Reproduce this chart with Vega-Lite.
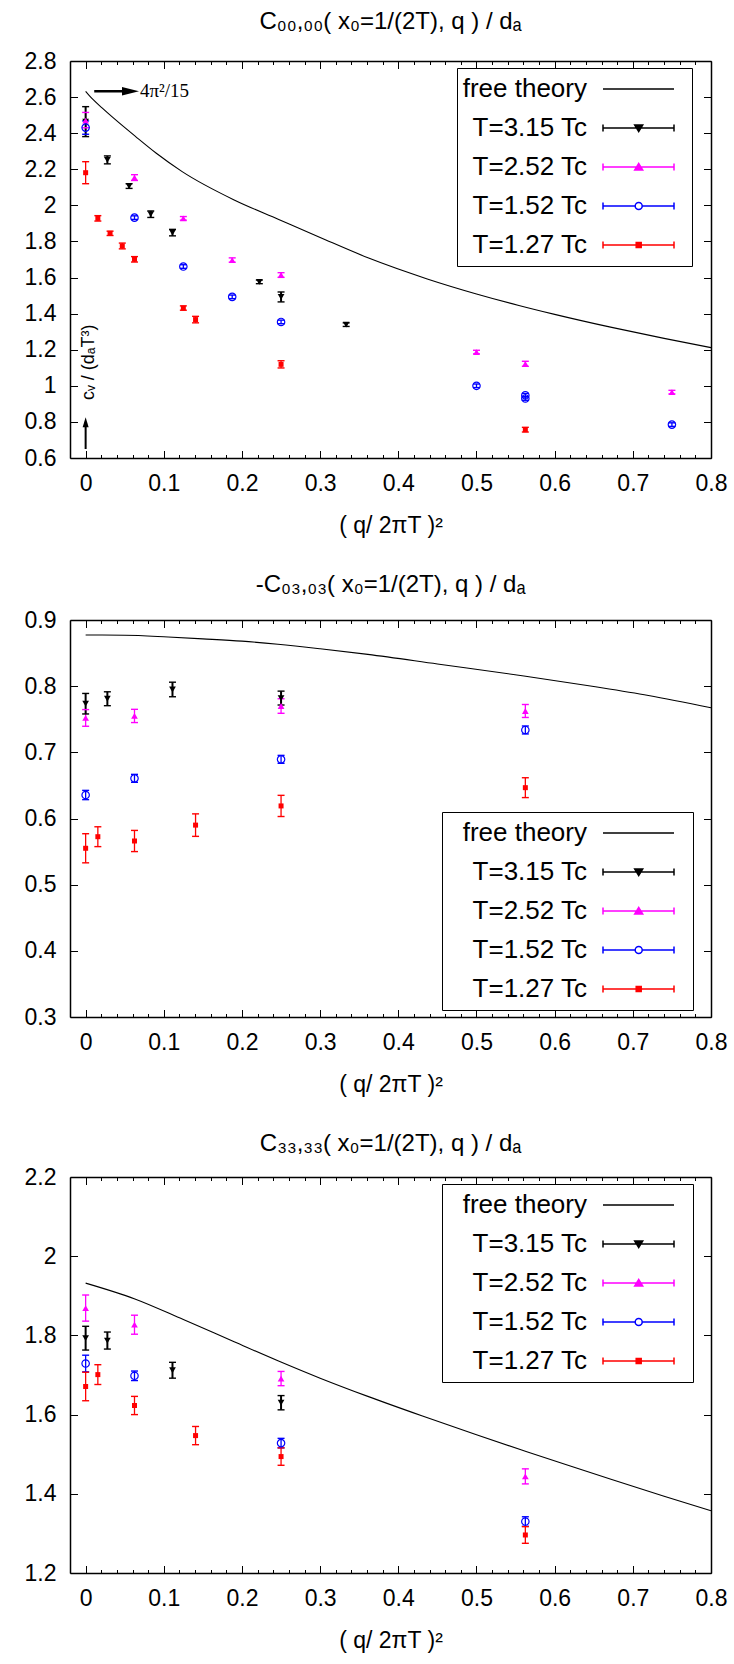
{
  "$schema": "https://vega.github.io/schema/vega-lite/v6.json",
  "padding": {"left": 24, "top": 10, "right": 5, "bottom": 5},
  "spacing": 36,
  "datasets": {
    "c1": [
      {"series": "free theory", "x": 0, "y": 2.632},
      {"series": "free theory", "x": 0.005, "y": 2.607},
      {"series": "free theory", "x": 0.01, "y": 2.584},
      {"series": "free theory", "x": 0.021, "y": 2.54},
      {"series": "free theory", "x": 0.034, "y": 2.49},
      {"series": "free theory", "x": 0.064, "y": 2.381},
      {"series": "free theory", "x": 0.09, "y": 2.29},
      {"series": "free theory", "x": 0.1235, "y": 2.187},
      {"series": "free theory", "x": 0.19, "y": 2.03},
      {"series": "free theory", "x": 0.247, "y": 1.922},
      {"series": "free theory", "x": 0.3, "y": 1.822},
      {"series": "free theory", "x": 0.362, "y": 1.708},
      {"series": "free theory", "x": 0.437, "y": 1.5925},
      {"series": "free theory", "x": 0.5, "y": 1.5093},
      {"series": "free theory", "x": 0.553, "y": 1.4468},
      {"series": "free theory", "x": 0.6, "y": 1.396},
      {"series": "free theory", "x": 0.673, "y": 1.3237},
      {"series": "free theory", "x": 0.74, "y": 1.2627},
      {"series": "free theory", "x": 0.8, "y": 1.2117}
    ],
    "p1": [
      {"series": "T=3.15 Tc", "x": 0, "y": 2.464, "lo": 2.381, "hi": 2.547},
      {"series": "T=3.15 Tc", "x": 0.0278, "y": 2.252, "lo": 2.23, "hi": 2.274},
      {"series": "T=3.15 Tc", "x": 0.0556, "y": 2.107, "lo": 2.094, "hi": 2.12},
      {"series": "T=3.15 Tc", "x": 0.0833, "y": 1.951, "lo": 1.933, "hi": 1.969},
      {"series": "T=3.15 Tc", "x": 0.1111, "y": 1.849, "lo": 1.831, "hi": 1.867},
      {"series": "T=3.15 Tc", "x": 0.2222, "y": 1.576, "lo": 1.566, "hi": 1.586},
      {"series": "T=3.15 Tc", "x": 0.25, "y": 1.493, "lo": 1.465, "hi": 1.52},
      {"series": "T=3.15 Tc", "x": 0.3333, "y": 1.339, "lo": 1.329, "hi": 1.349},
      {"series": "T=2.52 Tc", "x": 0, "y": 2.47, "lo": 2.43, "hi": 2.515},
      {"series": "T=2.52 Tc", "x": 0.0625, "y": 2.154, "lo": 2.138, "hi": 2.17},
      {"series": "T=2.52 Tc", "x": 0.125, "y": 1.928, "lo": 1.918, "hi": 1.938},
      {"series": "T=2.52 Tc", "x": 0.1875, "y": 1.697, "lo": 1.685, "hi": 1.709},
      {"series": "T=2.52 Tc", "x": 0.25, "y": 1.614, "lo": 1.601, "hi": 1.627},
      {"series": "T=2.52 Tc", "x": 0.5, "y": 1.187, "lo": 1.177, "hi": 1.197},
      {"series": "T=2.52 Tc", "x": 0.5625, "y": 1.122, "lo": 1.108, "hi": 1.136},
      {"series": "T=2.52 Tc", "x": 0.75, "y": 0.965, "lo": 0.955, "hi": 0.975},
      {"series": "T=1.52 Tc", "x": 0, "y": 2.431, "lo": 2.394, "hi": 2.468},
      {"series": "T=1.52 Tc", "x": 0.0625, "y": 1.932, "lo": 1.922, "hi": 1.942},
      {"series": "T=1.52 Tc", "x": 0.125, "y": 1.661, "lo": 1.651, "hi": 1.671},
      {"series": "T=1.52 Tc", "x": 0.1875, "y": 1.493, "lo": 1.483, "hi": 1.503},
      {"series": "T=1.52 Tc", "x": 0.25, "y": 1.354, "lo": 1.344, "hi": 1.364},
      {"series": "T=1.52 Tc", "x": 0.5, "y": 1.0, "lo": 0.99, "hi": 1.01},
      {"series": "T=1.52 Tc", "x": 0.5625, "y": 0.948, "lo": 0.938, "hi": 0.958},
      {"series": "T=1.52 Tc", "x": 0.5625, "y": 0.93, "lo": 0.92, "hi": 0.94},
      {"series": "T=1.52 Tc", "x": 0.75, "y": 0.785, "lo": 0.775, "hi": 0.795},
      {"series": "T=1.27 Tc", "x": 0, "y": 2.181, "lo": 2.12, "hi": 2.242},
      {"series": "T=1.27 Tc", "x": 0.015625, "y": 1.928, "lo": 1.913, "hi": 1.943},
      {"series": "T=1.27 Tc", "x": 0.03125, "y": 1.845, "lo": 1.833, "hi": 1.857},
      {"series": "T=1.27 Tc", "x": 0.046875, "y": 1.775, "lo": 1.759, "hi": 1.791},
      {"series": "T=1.27 Tc", "x": 0.0625, "y": 1.701, "lo": 1.686, "hi": 1.716},
      {"series": "T=1.27 Tc", "x": 0.125, "y": 1.431, "lo": 1.419, "hi": 1.443},
      {"series": "T=1.27 Tc", "x": 0.140625, "y": 1.367, "lo": 1.349, "hi": 1.385},
      {"series": "T=1.27 Tc", "x": 0.25, "y": 1.119, "lo": 1.099, "hi": 1.139},
      {"series": "T=1.27 Tc", "x": 0.5625, "y": 0.757, "lo": 0.744, "hi": 0.77}
    ],
    "c2": [
      {"series": "free theory", "x": 0, "y": 0.8773},
      {"series": "free theory", "x": 0.05, "y": 0.877},
      {"series": "free theory", "x": 0.1055, "y": 0.8743},
      {"series": "free theory", "x": 0.15, "y": 0.8715},
      {"series": "free theory", "x": 0.2, "y": 0.868},
      {"series": "free theory", "x": 0.246, "y": 0.8633},
      {"series": "free theory", "x": 0.3, "y": 0.8565},
      {"series": "free theory", "x": 0.361, "y": 0.848},
      {"series": "free theory", "x": 0.45, "y": 0.8335},
      {"series": "free theory", "x": 0.5607, "y": 0.8154},
      {"series": "free theory", "x": 0.65, "y": 0.7995},
      {"series": "free theory", "x": 0.72, "y": 0.786},
      {"series": "free theory", "x": 0.8, "y": 0.7675}
    ],
    "p2": [
      {"series": "T=3.15 Tc", "x": 0, "y": 0.7735, "lo": 0.758, "hi": 0.789},
      {"series": "T=3.15 Tc", "x": 0.0278, "y": 0.781, "lo": 0.7705, "hi": 0.7915},
      {"series": "T=3.15 Tc", "x": 0.1111, "y": 0.795, "lo": 0.784, "hi": 0.806},
      {"series": "T=3.15 Tc", "x": 0.25, "y": 0.782, "lo": 0.7715, "hi": 0.7925},
      {"series": "T=2.52 Tc", "x": 0, "y": 0.752, "lo": 0.7394, "hi": 0.7646},
      {"series": "T=2.52 Tc", "x": 0.0625, "y": 0.755, "lo": 0.745, "hi": 0.765},
      {"series": "T=2.52 Tc", "x": 0.25, "y": 0.77, "lo": 0.759, "hi": 0.781},
      {"series": "T=2.52 Tc", "x": 0.5625, "y": 0.7625, "lo": 0.7527, "hi": 0.7723},
      {"series": "T=1.52 Tc", "x": 0, "y": 0.6355, "lo": 0.6285, "hi": 0.6425},
      {"series": "T=1.52 Tc", "x": 0.0625, "y": 0.6607, "lo": 0.6547, "hi": 0.6667},
      {"series": "T=1.52 Tc", "x": 0.25, "y": 0.6894, "lo": 0.6834, "hi": 0.6954},
      {"series": "T=1.52 Tc", "x": 0.5625, "y": 0.7338, "lo": 0.7278, "hi": 0.7398},
      {"series": "T=1.27 Tc", "x": 0, "y": 0.555, "lo": 0.533, "hi": 0.577},
      {"series": "T=1.27 Tc", "x": 0.015625, "y": 0.5725, "lo": 0.5575, "hi": 0.5875},
      {"series": "T=1.27 Tc", "x": 0.0625, "y": 0.566, "lo": 0.55, "hi": 0.582},
      {"series": "T=1.27 Tc", "x": 0.140625, "y": 0.59, "lo": 0.573, "hi": 0.607},
      {"series": "T=1.27 Tc", "x": 0.25, "y": 0.619, "lo": 0.603, "hi": 0.635},
      {"series": "T=1.27 Tc", "x": 0.5625, "y": 0.6466, "lo": 0.6316, "hi": 0.6616}
    ],
    "c3": [
      {"series": "free theory", "x": 0, "y": 1.932},
      {"series": "free theory", "x": 0.063, "y": 1.892},
      {"series": "free theory", "x": 0.125, "y": 1.84},
      {"series": "free theory", "x": 0.19, "y": 1.784},
      {"series": "free theory", "x": 0.246, "y": 1.736},
      {"series": "free theory", "x": 0.3, "y": 1.692},
      {"series": "free theory", "x": 0.361, "y": 1.646},
      {"series": "free theory", "x": 0.43, "y": 1.597},
      {"series": "free theory", "x": 0.5, "y": 1.549},
      {"series": "free theory", "x": 0.5634, "y": 1.507},
      {"series": "free theory", "x": 0.62, "y": 1.47},
      {"series": "free theory", "x": 0.673, "y": 1.436},
      {"series": "free theory", "x": 0.74, "y": 1.394},
      {"series": "free theory", "x": 0.8, "y": 1.357}
    ],
    "p3": [
      {"series": "T=3.15 Tc", "x": 0, "y": 1.793, "lo": 1.763, "hi": 1.823},
      {"series": "T=3.15 Tc", "x": 0.0278, "y": 1.787, "lo": 1.7655, "hi": 1.8085},
      {"series": "T=3.15 Tc", "x": 0.1111, "y": 1.712, "lo": 1.692, "hi": 1.732},
      {"series": "T=3.15 Tc", "x": 0.25, "y": 1.63, "lo": 1.612, "hi": 1.648},
      {"series": "T=2.52 Tc", "x": 0, "y": 1.869, "lo": 1.836, "hi": 1.902},
      {"series": "T=2.52 Tc", "x": 0.0625, "y": 1.827, "lo": 1.803, "hi": 1.851},
      {"series": "T=2.52 Tc", "x": 0.25, "y": 1.691, "lo": 1.673, "hi": 1.709},
      {"series": "T=2.52 Tc", "x": 0.5625, "y": 1.444, "lo": 1.425, "hi": 1.463},
      {"series": "T=1.52 Tc", "x": 0, "y": 1.729, "lo": 1.708, "hi": 1.75},
      {"series": "T=1.52 Tc", "x": 0.0625, "y": 1.698, "lo": 1.686, "hi": 1.71},
      {"series": "T=1.52 Tc", "x": 0.25, "y": 1.528, "lo": 1.516, "hi": 1.54},
      {"series": "T=1.52 Tc", "x": 0.5625, "y": 1.33, "lo": 1.318, "hi": 1.342},
      {"series": "T=1.27 Tc", "x": 0, "y": 1.671, "lo": 1.635, "hi": 1.707},
      {"series": "T=1.27 Tc", "x": 0.015625, "y": 1.701, "lo": 1.676, "hi": 1.726},
      {"series": "T=1.27 Tc", "x": 0.0625, "y": 1.623, "lo": 1.6, "hi": 1.646},
      {"series": "T=1.27 Tc", "x": 0.140625, "y": 1.547, "lo": 1.524, "hi": 1.57},
      {"series": "T=1.27 Tc", "x": 0.25, "y": 1.494, "lo": 1.472, "hi": 1.516},
      {"series": "T=1.27 Tc", "x": 0.5625, "y": 1.296, "lo": 1.275, "hi": 1.317}
    ]
  },
  "resolve": {
    "scale": {"x": "independent", "y": "independent", "color": "independent"},
    "axis": {"x": "independent", "y": "independent"},
    "legend": {"color": "independent"}
  },
  "vconcat": [
    {
      "width": 641, "height": 397,
      "title": {"text": "C₀₀,₀₀( x₀=1/(2T), q ) / dₐ", "anchor": "middle", "frame": "group", "baseline": "alphabetic", "offset": -3},
      "resolve": {"axis": {"x": "independent", "y": "independent"}},
      "layer": [
        {"data": {"name": "c1"}, "mark": {"type": "line", "interpolate": "monotone", "strokeWidth": 1.1},
         "encoding": {
           "x": {"field": "x", "type": "quantitative", "scale": {"domain": [-0.02, 0.8], "nice": false, "zero": false},
                 "axis": {"orient": "bottom", "values": [0, 0.1, 0.2, 0.3, 0.4, 0.5, 0.6, 0.7, 0.8], "format": "~g", "tickSize": -7.5, "labelPadding": 21.5, "title": "( q/ 2πT )²", "titlePadding": 19}},
           "y": {"field": "y", "type": "quantitative", "scale": {"domain": [0.6, 2.8], "nice": false, "zero": false},
                 "axis": {"orient": "left", "values": [0.6, 0.8, 1, 1.2, 1.4, 1.6, 1.8, 2, 2.2, 2.4, 2.6, 2.8], "format": "~g", "tickSize": -7.5, "labelPadding": 21.5, "title": null}},
           "color": {"field": "series", "type": "nominal",
             "scale": {"domain": ["free theory", "T=3.15 Tc", "T=2.52 Tc", "T=1.52 Tc", "T=1.27 Tc"], "range": ["#000000", "#000000", "#ff00ff", "#0000ff", "#ff0000"]},
             "legend": {"orient": "none", "legendX": 387, "legendY": 7, "title": null, "labelOffset": 96,
               "encode": {"symbols": {"update": {
                 "shape": {"signal": "datum.value === 'free theory' ? 'M-13,0L-13,0M125,0H196M203,0L203,0' : datum.value === 'T=3.15 Tc' ? 'M-13,0L-13,0M125,0H196M125,-3.5V3.5M196,-3.5V3.5M156.7,-3L164.7,-3L160.7,3.5ZM203,0L203,0' : datum.value === 'T=2.52 Tc' ? 'M-13,0L-13,0M125,0H196M125,-3.5V3.5M196,-3.5V3.5M156.7,3L164.7,3L160.7,-3.5ZM203,0L203,0' : datum.value === 'T=1.52 Tc' ? 'M-13,0L-13,0M125,0H157.2M164.2,0H196M125,-3.5V3.5M196,-3.5V3.5M164.2,0A3.5,3.5,0,1,1,157.2,0A3.5,3.5,0,1,1,164.2,0M203,0L203,0' : 'M-13,0L-13,0M125,0H196M125,-3.5V3.5M196,-3.5V3.5M158.2,-2.5H163.2V2.5H158.2ZM203,0L203,0'"},
                 "fill": {"signal": "datum.value === 'T=3.15 Tc' ? '#000000' : datum.value === 'T=2.52 Tc' ? '#ff00ff' : datum.value === 'T=1.27 Tc' ? '#ff0000' : 'transparent'"},
                 "stroke": {"signal": "datum.value === 'T=2.52 Tc' ? '#ff00ff' : datum.value === 'T=1.52 Tc' ? '#0000ff' : datum.value === 'T=1.27 Tc' ? '#ff0000' : '#000000'"},
                 "strokeWidth": {"value": 1.5},
                 "size": {"value": 4},
                 "opacity": {"value": 1}
               }}}}}
         }},
        {"data": {"name": "p1"}, "transform": [{"filter": "datum.series !== 'T=3.15 Tc'"}], "mark": {"type": "rule", "strokeWidth": 1.3},
         "encoding": {
           "x": {"field": "x", "type": "quantitative", "scale": {"domain": [-0.02, 0.8], "nice": false, "zero": false},
                 "axis": {"orient": "top", "values": [0, 0.1, 0.2, 0.3, 0.4, 0.5, 0.6, 0.7, 0.8], "labels": false, "tickSize": -7.5, "title": null}},
           "y": {"field": "lo", "type": "quantitative", "scale": {"domain": [0.6, 2.8], "nice": false, "zero": false},
                 "axis": {"orient": "right", "values": [0.6, 0.8, 1, 1.2, 1.4, 1.6, 1.8, 2, 2.2, 2.4, 2.6, 2.8], "labels": false, "tickSize": -7.5, "title": null}},
           "y2": {"field": "hi"},
           "stroke": {"field": "series", "type": "nominal", "scale": {"domain": ["T=3.15 Tc", "T=2.52 Tc", "T=1.52 Tc", "T=1.27 Tc"], "range": ["#000000", "#ff00ff", "#0000ff", "#ff0000"]}, "legend": null}
         }},
        {"data": {"name": "p1"}, "transform": [{"filter": "datum.series === 'T=3.15 Tc'"}], "mark": {"type": "rule", "strokeWidth": 2, "color": "#000000"},
         "encoding": {
           "x": {"field": "x", "type": "quantitative", "scale": {"domain": [-0.02, 0.8], "nice": false, "zero": false}, "axis": null},
           "y": {"field": "lo", "type": "quantitative", "scale": {"domain": [0.6, 2.8], "nice": false, "zero": false}, "axis": null},
           "y2": {"field": "hi"}
         }},
        {"data": {"name": "p1"}, "mark": {"type": "tick", "orient": "horizontal", "size": 7, "thickness": 1.4, "opacity": 1},
         "encoding": {
           "x": {"field": "x", "type": "quantitative", "scale": {"domain": [-0.02, 0.8], "nice": false, "zero": false},
                 "axis": {"orient": "bottom", "values": [0.02, 0.04, 0.06, 0.08, 0.12, 0.14, 0.16, 0.18, 0.22, 0.24, 0.26, 0.28, 0.32, 0.34, 0.36, 0.38, 0.42, 0.44, 0.46, 0.48, 0.52, 0.54, 0.56, 0.58, 0.62, 0.64, 0.66, 0.68, 0.72, 0.74, 0.76, 0.78], "labels": false, "domain": false, "tickSize": -3.5, "title": null}},
           "y": {"field": "lo", "type": "quantitative", "scale": {"domain": [0.6, 2.8], "nice": false, "zero": false}, "axis": null},
           "fill": {"field": "series", "type": "nominal", "scale": {"domain": ["T=3.15 Tc", "T=2.52 Tc", "T=1.52 Tc", "T=1.27 Tc"], "range": ["#000000", "#ff00ff", "#0000ff", "#ff0000"]}, "legend": null}
         }},
        {"data": {"name": "p1"}, "mark": {"type": "tick", "orient": "horizontal", "size": 7, "thickness": 1.4, "opacity": 1},
         "encoding": {
           "x": {"field": "x", "type": "quantitative", "scale": {"domain": [-0.02, 0.8], "nice": false, "zero": false},
                 "axis": {"orient": "top", "values": [0.02, 0.04, 0.06, 0.08, 0.12, 0.14, 0.16, 0.18, 0.22, 0.24, 0.26, 0.28, 0.32, 0.34, 0.36, 0.38, 0.42, 0.44, 0.46, 0.48, 0.52, 0.54, 0.56, 0.58, 0.62, 0.64, 0.66, 0.68, 0.72, 0.74, 0.76, 0.78], "labels": false, "domain": false, "tickSize": -3.5, "title": null}},
           "y": {"field": "hi", "type": "quantitative", "scale": {"domain": [0.6, 2.8], "nice": false, "zero": false}, "axis": null},
           "fill": {"field": "series", "type": "nominal", "scale": {"domain": ["T=3.15 Tc", "T=2.52 Tc", "T=1.52 Tc", "T=1.27 Tc"], "range": ["#000000", "#ff00ff", "#0000ff", "#ff0000"]}, "legend": null}
         }},
        {"data": {"name": "p1"}, "transform": [{"filter": "datum.series === 'T=3.15 Tc'"}], "mark": {"type": "point", "shape": "triangle-down", "size": 45, "filled": true, "color": "#000000", "opacity": 1},
         "encoding": {"x": {"field": "x", "type": "quantitative", "scale": {"domain": [-0.02, 0.8], "nice": false, "zero": false}, "axis": null},
                      "y": {"field": "y", "type": "quantitative", "scale": {"domain": [0.6, 2.8], "nice": false, "zero": false}, "axis": null}}},
        {"data": {"name": "p1"}, "transform": [{"filter": "datum.series === 'T=2.52 Tc'"}], "mark": {"type": "point", "shape": "triangle-up", "size": 45, "filled": true, "color": "#ff00ff", "opacity": 1},
         "encoding": {"x": {"field": "x", "type": "quantitative", "scale": {"domain": [-0.02, 0.8], "nice": false, "zero": false}, "axis": null},
                      "y": {"field": "y", "type": "quantitative", "scale": {"domain": [0.6, 2.8], "nice": false, "zero": false}, "axis": null}}},
        {"data": {"name": "p1"}, "transform": [{"filter": "datum.series === 'T=1.52 Tc'"}], "mark": {"type": "point", "shape": "circle", "size": 55, "filled": false, "color": "#0000ff", "strokeWidth": 1.2, "opacity": 1},
         "encoding": {"x": {"field": "x", "type": "quantitative", "scale": {"domain": [-0.02, 0.8], "nice": false, "zero": false}, "axis": null},
                      "y": {"field": "y", "type": "quantitative", "scale": {"domain": [0.6, 2.8], "nice": false, "zero": false}, "axis": null}}},
        {"data": {"name": "p1"}, "transform": [{"filter": "datum.series === 'T=1.27 Tc'"}], "mark": {"type": "point", "shape": "square", "size": 25, "filled": true, "color": "#ff0000", "opacity": 1},
         "encoding": {"x": {"field": "x", "type": "quantitative", "scale": {"domain": [-0.02, 0.8], "nice": false, "zero": false}, "axis": null},
                      "y": {"field": "y", "type": "quantitative", "scale": {"domain": [0.6, 2.8], "nice": false, "zero": false}, "axis": null}}},
        {"data": {"values": [{}]}, "mark": {"type": "text", "text": "cᵥ / (dₐT³)", "angle": 270, "font": "Liberation Sans", "fontSize": 18, "align": "center", "baseline": "middle", "color": "#000000"},
         "encoding": {"x": {"datum": 0.004, "type": "quantitative", "axis": null}, "y": {"datum": 1.13, "type": "quantitative", "axis": null}}},
        {"data": {"values": [{}]}, "mark": {"type": "rule", "strokeWidth": 2, "color": "#000000"},
         "encoding": {"x": {"datum": 0, "type": "quantitative", "axis": null}, "y": {"datum": 0.65, "type": "quantitative", "axis": null}, "y2": {"datum": 0.78}}},
        {"data": {"values": [{}]}, "mark": {"type": "point", "shape": "M-0.6,1L0,-1L0.6,1Z", "size": 100, "filled": true, "color": "#000000", "opacity": 1},
         "encoding": {"x": {"datum": 0, "type": "quantitative", "axis": null}, "y": {"datum": 0.798, "type": "quantitative", "axis": null}}},
        {"data": {"values": [{}]}, "mark": {"type": "rule", "strokeWidth": 2.5, "color": "#000000"},
         "encoding": {"x": {"datum": 0.011, "type": "quantitative", "axis": null}, "x2": {"datum": 0.058}, "y": {"datum": 2.632, "type": "quantitative", "axis": null}}},
        {"data": {"values": [{}]}, "mark": {"type": "point", "shape": "M-1,-0.5L1,0L-1,0.5Z", "size": 289, "filled": true, "color": "#000000", "opacity": 1},
         "encoding": {"x": {"datum": 0.0574, "type": "quantitative", "axis": null}, "y": {"datum": 2.632, "type": "quantitative", "axis": null}}},
        {"data": {"values": [{}]}, "mark": {"type": "text", "text": "4π²/15", "font": "Liberation Serif", "fontSize": 19, "align": "left", "baseline": "middle", "color": "#000000"},
         "encoding": {"x": {"datum": 0.0695, "type": "quantitative", "axis": null}, "y": {"datum": 2.632, "type": "quantitative", "axis": null}}}
      ]
    },
    {
      "width": 641, "height": 397,
      "title": {"text": "-C₀₃,₀₃( x₀=1/(2T), q ) / dₐ", "anchor": "middle", "frame": "group", "baseline": "alphabetic", "offset": -7},
      "resolve": {"axis": {"x": "independent", "y": "independent"}},
      "layer": [
        {"data": {"name": "c2"}, "mark": {"type": "line", "interpolate": "monotone", "strokeWidth": 1.1},
         "encoding": {
           "x": {"field": "x", "type": "quantitative", "scale": {"domain": [-0.02, 0.8], "nice": false, "zero": false},
                 "axis": {"orient": "bottom", "values": [0, 0.1, 0.2, 0.3, 0.4, 0.5, 0.6, 0.7, 0.8], "format": "~g", "tickSize": -7.5, "labelPadding": 21.5, "title": "( q/ 2πT )²", "titlePadding": 19}},
           "y": {"field": "y", "type": "quantitative", "scale": {"domain": [0.3, 0.9], "nice": false, "zero": false},
                 "axis": {"orient": "left", "values": [0.3, 0.4, 0.5, 0.6, 0.7, 0.8, 0.9], "format": "~g", "tickSize": -7.5, "labelPadding": 21.5, "title": null}},
           "color": {"field": "series", "type": "nominal",
             "scale": {"domain": ["free theory", "T=3.15 Tc", "T=2.52 Tc", "T=1.52 Tc", "T=1.27 Tc"], "range": ["#000000", "#000000", "#ff00ff", "#0000ff", "#ff0000"]},
             "legend": {"orient": "none", "legendX": 372, "legendY": 192, "title": null, "labelOffset": 111,
               "encode": {"symbols": {"update": {
                 "shape": {"signal": "datum.value === 'free theory' ? 'M-13,0L-13,0M140,0H211M219,0L219,0' : datum.value === 'T=3.15 Tc' ? 'M-13,0L-13,0M140,0H211M140,-3.5V3.5M211,-3.5V3.5M171.7,-3L179.7,-3L175.7,3.5ZM219,0L219,0' : datum.value === 'T=2.52 Tc' ? 'M-13,0L-13,0M140,0H211M140,-3.5V3.5M211,-3.5V3.5M171.7,3L179.7,3L175.7,-3.5ZM219,0L219,0' : datum.value === 'T=1.52 Tc' ? 'M-13,0L-13,0M140,0H172.2M179.2,0H211M140,-3.5V3.5M211,-3.5V3.5M179.2,0A3.5,3.5,0,1,1,172.2,0A3.5,3.5,0,1,1,179.2,0M219,0L219,0' : 'M-13,0L-13,0M140,0H211M140,-3.5V3.5M211,-3.5V3.5M173.2,-2.5H178.2V2.5H173.2ZM219,0L219,0'"},
                 "fill": {"signal": "datum.value === 'T=3.15 Tc' ? '#000000' : datum.value === 'T=2.52 Tc' ? '#ff00ff' : datum.value === 'T=1.27 Tc' ? '#ff0000' : 'transparent'"},
                 "stroke": {"signal": "datum.value === 'T=2.52 Tc' ? '#ff00ff' : datum.value === 'T=1.52 Tc' ? '#0000ff' : datum.value === 'T=1.27 Tc' ? '#ff0000' : '#000000'"},
                 "strokeWidth": {"value": 1.5},
                 "size": {"value": 4},
                 "opacity": {"value": 1}
               }}}}}
         }},
        {"data": {"name": "p2"}, "transform": [{"filter": "datum.series !== 'T=3.15 Tc'"}], "mark": {"type": "rule", "strokeWidth": 1.3},
         "encoding": {
           "x": {"field": "x", "type": "quantitative", "scale": {"domain": [-0.02, 0.8], "nice": false, "zero": false},
                 "axis": {"orient": "top", "values": [0, 0.1, 0.2, 0.3, 0.4, 0.5, 0.6, 0.7, 0.8], "labels": false, "tickSize": -7.5, "title": null}},
           "y": {"field": "lo", "type": "quantitative", "scale": {"domain": [0.3, 0.9], "nice": false, "zero": false},
                 "axis": {"orient": "right", "values": [0.3, 0.4, 0.5, 0.6, 0.7, 0.8, 0.9], "labels": false, "tickSize": -7.5, "title": null}},
           "y2": {"field": "hi"},
           "stroke": {"field": "series", "type": "nominal", "scale": {"domain": ["T=3.15 Tc", "T=2.52 Tc", "T=1.52 Tc", "T=1.27 Tc"], "range": ["#000000", "#ff00ff", "#0000ff", "#ff0000"]}, "legend": null}
         }},
        {"data": {"name": "p2"}, "transform": [{"filter": "datum.series === 'T=3.15 Tc'"}], "mark": {"type": "rule", "strokeWidth": 2, "color": "#000000"},
         "encoding": {
           "x": {"field": "x", "type": "quantitative", "scale": {"domain": [-0.02, 0.8], "nice": false, "zero": false}, "axis": null},
           "y": {"field": "lo", "type": "quantitative", "scale": {"domain": [0.3, 0.9], "nice": false, "zero": false}, "axis": null},
           "y2": {"field": "hi"}
         }},
        {"data": {"name": "p2"}, "mark": {"type": "tick", "orient": "horizontal", "size": 7, "thickness": 1.4, "opacity": 1},
         "encoding": {
           "x": {"field": "x", "type": "quantitative", "scale": {"domain": [-0.02, 0.8], "nice": false, "zero": false},
                 "axis": {"orient": "bottom", "values": [0.02, 0.04, 0.06, 0.08, 0.12, 0.14, 0.16, 0.18, 0.22, 0.24, 0.26, 0.28, 0.32, 0.34, 0.36, 0.38, 0.42, 0.44, 0.46, 0.48, 0.52, 0.54, 0.56, 0.58, 0.62, 0.64, 0.66, 0.68, 0.72, 0.74, 0.76, 0.78], "labels": false, "domain": false, "tickSize": -3.5, "title": null}},
           "y": {"field": "lo", "type": "quantitative", "scale": {"domain": [0.3, 0.9], "nice": false, "zero": false}, "axis": null},
           "fill": {"field": "series", "type": "nominal", "scale": {"domain": ["T=3.15 Tc", "T=2.52 Tc", "T=1.52 Tc", "T=1.27 Tc"], "range": ["#000000", "#ff00ff", "#0000ff", "#ff0000"]}, "legend": null}
         }},
        {"data": {"name": "p2"}, "mark": {"type": "tick", "orient": "horizontal", "size": 7, "thickness": 1.4, "opacity": 1},
         "encoding": {
           "x": {"field": "x", "type": "quantitative", "scale": {"domain": [-0.02, 0.8], "nice": false, "zero": false},
                 "axis": {"orient": "top", "values": [0.02, 0.04, 0.06, 0.08, 0.12, 0.14, 0.16, 0.18, 0.22, 0.24, 0.26, 0.28, 0.32, 0.34, 0.36, 0.38, 0.42, 0.44, 0.46, 0.48, 0.52, 0.54, 0.56, 0.58, 0.62, 0.64, 0.66, 0.68, 0.72, 0.74, 0.76, 0.78], "labels": false, "domain": false, "tickSize": -3.5, "title": null}},
           "y": {"field": "hi", "type": "quantitative", "scale": {"domain": [0.3, 0.9], "nice": false, "zero": false}, "axis": null},
           "fill": {"field": "series", "type": "nominal", "scale": {"domain": ["T=3.15 Tc", "T=2.52 Tc", "T=1.52 Tc", "T=1.27 Tc"], "range": ["#000000", "#ff00ff", "#0000ff", "#ff0000"]}, "legend": null}
         }},
        {"data": {"name": "p2"}, "transform": [{"filter": "datum.series === 'T=3.15 Tc'"}], "mark": {"type": "point", "shape": "triangle-down", "size": 45, "filled": true, "color": "#000000", "opacity": 1},
         "encoding": {"x": {"field": "x", "type": "quantitative", "scale": {"domain": [-0.02, 0.8], "nice": false, "zero": false}, "axis": null},
                      "y": {"field": "y", "type": "quantitative", "scale": {"domain": [0.3, 0.9], "nice": false, "zero": false}, "axis": null}}},
        {"data": {"name": "p2"}, "transform": [{"filter": "datum.series === 'T=2.52 Tc'"}], "mark": {"type": "point", "shape": "triangle-up", "size": 45, "filled": true, "color": "#ff00ff", "opacity": 1},
         "encoding": {"x": {"field": "x", "type": "quantitative", "scale": {"domain": [-0.02, 0.8], "nice": false, "zero": false}, "axis": null},
                      "y": {"field": "y", "type": "quantitative", "scale": {"domain": [0.3, 0.9], "nice": false, "zero": false}, "axis": null}}},
        {"data": {"name": "p2"}, "transform": [{"filter": "datum.series === 'T=1.52 Tc'"}], "mark": {"type": "point", "shape": "circle", "size": 55, "filled": false, "color": "#0000ff", "strokeWidth": 1.2, "opacity": 1},
         "encoding": {"x": {"field": "x", "type": "quantitative", "scale": {"domain": [-0.02, 0.8], "nice": false, "zero": false}, "axis": null},
                      "y": {"field": "y", "type": "quantitative", "scale": {"domain": [0.3, 0.9], "nice": false, "zero": false}, "axis": null}}},
        {"data": {"name": "p2"}, "transform": [{"filter": "datum.series === 'T=1.27 Tc'"}], "mark": {"type": "point", "shape": "square", "size": 25, "filled": true, "color": "#ff0000", "opacity": 1},
         "encoding": {"x": {"field": "x", "type": "quantitative", "scale": {"domain": [-0.02, 0.8], "nice": false, "zero": false}, "axis": null},
                      "y": {"field": "y", "type": "quantitative", "scale": {"domain": [0.3, 0.9], "nice": false, "zero": false}, "axis": null}}}
      ]
    },
    {
      "width": 641, "height": 396,
      "title": {"text": "C₃₃,₃₃( x₀=1/(2T), q ) / dₐ", "anchor": "middle", "frame": "group", "baseline": "alphabetic", "offset": -9},
      "resolve": {"axis": {"x": "independent", "y": "independent"}},
      "layer": [
        {"data": {"name": "c3"}, "mark": {"type": "line", "interpolate": "monotone", "strokeWidth": 1.1},
         "encoding": {
           "x": {"field": "x", "type": "quantitative", "scale": {"domain": [-0.02, 0.8], "nice": false, "zero": false},
                 "axis": {"orient": "bottom", "values": [0, 0.1, 0.2, 0.3, 0.4, 0.5, 0.6, 0.7, 0.8], "format": "~g", "tickSize": -7.5, "labelPadding": 21.5, "title": "( q/ 2πT )²", "titlePadding": 19}},
           "y": {"field": "y", "type": "quantitative", "scale": {"domain": [1.2, 2.2], "nice": false, "zero": false},
                 "axis": {"orient": "left", "values": [1.2, 1.4, 1.6, 1.8, 2, 2.2], "format": "~g", "tickSize": -7.5, "labelPadding": 21.5, "title": null}},
           "color": {"field": "series", "type": "nominal",
             "scale": {"domain": ["free theory", "T=3.15 Tc", "T=2.52 Tc", "T=1.52 Tc", "T=1.27 Tc"], "range": ["#000000", "#000000", "#ff00ff", "#0000ff", "#ff0000"]},
             "legend": {"orient": "none", "legendX": 372, "legendY": 7, "title": null, "labelOffset": 111,
               "encode": {"symbols": {"update": {
                 "shape": {"signal": "datum.value === 'free theory' ? 'M-13,0L-13,0M140,0H211M219,0L219,0' : datum.value === 'T=3.15 Tc' ? 'M-13,0L-13,0M140,0H211M140,-3.5V3.5M211,-3.5V3.5M171.7,-3L179.7,-3L175.7,3.5ZM219,0L219,0' : datum.value === 'T=2.52 Tc' ? 'M-13,0L-13,0M140,0H211M140,-3.5V3.5M211,-3.5V3.5M171.7,3L179.7,3L175.7,-3.5ZM219,0L219,0' : datum.value === 'T=1.52 Tc' ? 'M-13,0L-13,0M140,0H172.2M179.2,0H211M140,-3.5V3.5M211,-3.5V3.5M179.2,0A3.5,3.5,0,1,1,172.2,0A3.5,3.5,0,1,1,179.2,0M219,0L219,0' : 'M-13,0L-13,0M140,0H211M140,-3.5V3.5M211,-3.5V3.5M173.2,-2.5H178.2V2.5H173.2ZM219,0L219,0'"},
                 "fill": {"signal": "datum.value === 'T=3.15 Tc' ? '#000000' : datum.value === 'T=2.52 Tc' ? '#ff00ff' : datum.value === 'T=1.27 Tc' ? '#ff0000' : 'transparent'"},
                 "stroke": {"signal": "datum.value === 'T=2.52 Tc' ? '#ff00ff' : datum.value === 'T=1.52 Tc' ? '#0000ff' : datum.value === 'T=1.27 Tc' ? '#ff0000' : '#000000'"},
                 "strokeWidth": {"value": 1.5},
                 "size": {"value": 4},
                 "opacity": {"value": 1}
               }}}}}
         }},
        {"data": {"name": "p3"}, "transform": [{"filter": "datum.series !== 'T=3.15 Tc'"}], "mark": {"type": "rule", "strokeWidth": 1.3},
         "encoding": {
           "x": {"field": "x", "type": "quantitative", "scale": {"domain": [-0.02, 0.8], "nice": false, "zero": false},
                 "axis": {"orient": "top", "values": [0, 0.1, 0.2, 0.3, 0.4, 0.5, 0.6, 0.7, 0.8], "labels": false, "tickSize": -7.5, "title": null}},
           "y": {"field": "lo", "type": "quantitative", "scale": {"domain": [1.2, 2.2], "nice": false, "zero": false},
                 "axis": {"orient": "right", "values": [1.2, 1.4, 1.6, 1.8, 2, 2.2], "labels": false, "tickSize": -7.5, "title": null}},
           "y2": {"field": "hi"},
           "stroke": {"field": "series", "type": "nominal", "scale": {"domain": ["T=3.15 Tc", "T=2.52 Tc", "T=1.52 Tc", "T=1.27 Tc"], "range": ["#000000", "#ff00ff", "#0000ff", "#ff0000"]}, "legend": null}
         }},
        {"data": {"name": "p3"}, "transform": [{"filter": "datum.series === 'T=3.15 Tc'"}], "mark": {"type": "rule", "strokeWidth": 2, "color": "#000000"},
         "encoding": {
           "x": {"field": "x", "type": "quantitative", "scale": {"domain": [-0.02, 0.8], "nice": false, "zero": false}, "axis": null},
           "y": {"field": "lo", "type": "quantitative", "scale": {"domain": [1.2, 2.2], "nice": false, "zero": false}, "axis": null},
           "y2": {"field": "hi"}
         }},
        {"data": {"name": "p3"}, "mark": {"type": "tick", "orient": "horizontal", "size": 7, "thickness": 1.4, "opacity": 1},
         "encoding": {
           "x": {"field": "x", "type": "quantitative", "scale": {"domain": [-0.02, 0.8], "nice": false, "zero": false},
                 "axis": {"orient": "bottom", "values": [0.02, 0.04, 0.06, 0.08, 0.12, 0.14, 0.16, 0.18, 0.22, 0.24, 0.26, 0.28, 0.32, 0.34, 0.36, 0.38, 0.42, 0.44, 0.46, 0.48, 0.52, 0.54, 0.56, 0.58, 0.62, 0.64, 0.66, 0.68, 0.72, 0.74, 0.76, 0.78], "labels": false, "domain": false, "tickSize": -3.5, "title": null}},
           "y": {"field": "lo", "type": "quantitative", "scale": {"domain": [1.2, 2.2], "nice": false, "zero": false}, "axis": null},
           "fill": {"field": "series", "type": "nominal", "scale": {"domain": ["T=3.15 Tc", "T=2.52 Tc", "T=1.52 Tc", "T=1.27 Tc"], "range": ["#000000", "#ff00ff", "#0000ff", "#ff0000"]}, "legend": null}
         }},
        {"data": {"name": "p3"}, "mark": {"type": "tick", "orient": "horizontal", "size": 7, "thickness": 1.4, "opacity": 1},
         "encoding": {
           "x": {"field": "x", "type": "quantitative", "scale": {"domain": [-0.02, 0.8], "nice": false, "zero": false},
                 "axis": {"orient": "top", "values": [0.02, 0.04, 0.06, 0.08, 0.12, 0.14, 0.16, 0.18, 0.22, 0.24, 0.26, 0.28, 0.32, 0.34, 0.36, 0.38, 0.42, 0.44, 0.46, 0.48, 0.52, 0.54, 0.56, 0.58, 0.62, 0.64, 0.66, 0.68, 0.72, 0.74, 0.76, 0.78], "labels": false, "domain": false, "tickSize": -3.5, "title": null}},
           "y": {"field": "hi", "type": "quantitative", "scale": {"domain": [1.2, 2.2], "nice": false, "zero": false}, "axis": null},
           "fill": {"field": "series", "type": "nominal", "scale": {"domain": ["T=3.15 Tc", "T=2.52 Tc", "T=1.52 Tc", "T=1.27 Tc"], "range": ["#000000", "#ff00ff", "#0000ff", "#ff0000"]}, "legend": null}
         }},
        {"data": {"name": "p3"}, "transform": [{"filter": "datum.series === 'T=3.15 Tc'"}], "mark": {"type": "point", "shape": "triangle-down", "size": 45, "filled": true, "color": "#000000", "opacity": 1},
         "encoding": {"x": {"field": "x", "type": "quantitative", "scale": {"domain": [-0.02, 0.8], "nice": false, "zero": false}, "axis": null},
                      "y": {"field": "y", "type": "quantitative", "scale": {"domain": [1.2, 2.2], "nice": false, "zero": false}, "axis": null}}},
        {"data": {"name": "p3"}, "transform": [{"filter": "datum.series === 'T=2.52 Tc'"}], "mark": {"type": "point", "shape": "triangle-up", "size": 45, "filled": true, "color": "#ff00ff", "opacity": 1},
         "encoding": {"x": {"field": "x", "type": "quantitative", "scale": {"domain": [-0.02, 0.8], "nice": false, "zero": false}, "axis": null},
                      "y": {"field": "y", "type": "quantitative", "scale": {"domain": [1.2, 2.2], "nice": false, "zero": false}, "axis": null}}},
        {"data": {"name": "p3"}, "transform": [{"filter": "datum.series === 'T=1.52 Tc'"}], "mark": {"type": "point", "shape": "circle", "size": 55, "filled": false, "color": "#0000ff", "strokeWidth": 1.2, "opacity": 1},
         "encoding": {"x": {"field": "x", "type": "quantitative", "scale": {"domain": [-0.02, 0.8], "nice": false, "zero": false}, "axis": null},
                      "y": {"field": "y", "type": "quantitative", "scale": {"domain": [1.2, 2.2], "nice": false, "zero": false}, "axis": null}}},
        {"data": {"name": "p3"}, "transform": [{"filter": "datum.series === 'T=1.27 Tc'"}], "mark": {"type": "point", "shape": "square", "size": 25, "filled": true, "color": "#ff0000", "opacity": 1},
         "encoding": {"x": {"field": "x", "type": "quantitative", "scale": {"domain": [-0.02, 0.8], "nice": false, "zero": false}, "axis": null},
                      "y": {"field": "y", "type": "quantitative", "scale": {"domain": [1.2, 2.2], "nice": false, "zero": false}, "axis": null}}}
      ]
    }
  ],
  "config": {
    "font": "Liberation Sans",
    "view": {"stroke": null},
    "axis": {"labelFont": "Liberation Sans", "labelFontSize": 23, "labelColor": "#000000", "titleFont": "Liberation Sans", "titleFontSize": 23, "titleFontWeight": "normal", "titleColor": "#000000", "domainColor": "#000000", "domainWidth": 1.5, "tickColor": "#000000", "tickWidth": 1, "grid": false, "labelFlush": false, "labelOverlap": false},
    "title": {"font": "Liberation Sans", "fontSize": 24, "fontWeight": "normal", "color": "#000000"},
    "legend": {"labelFont": "Liberation Sans", "labelFontSize": 26, "labelColor": "#000000", "labelAlign": "right", "padding": 8, "rowPadding": 13, "strokeColor": "#000000", "strokeWidth": 1, "symbolStrokeWidth": 1.5, "symbolSize": 4, "labelLimit": 400}
  }
}
